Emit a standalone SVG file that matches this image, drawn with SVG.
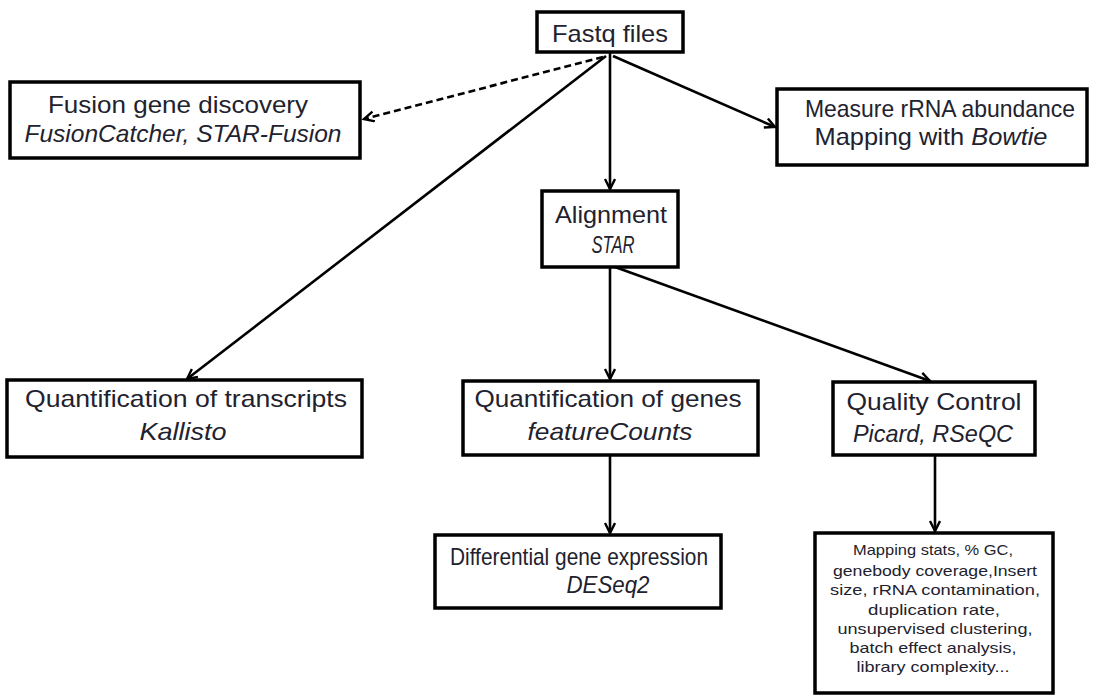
<svg xmlns="http://www.w3.org/2000/svg" width="1093" height="695" viewBox="0 0 1093 695">
<style>
.box{fill:#fff;stroke:#000;stroke-width:3.5}
.t{font-family:"Liberation Sans",Arial,sans-serif;font-size:24px;fill:#22222e;text-anchor:middle}
.i{font-style:italic}
.s{font-family:"Liberation Sans",Arial,sans-serif;font-size:15px;fill:#22222e;text-anchor:middle}
.c{fill:none;stroke:#000;stroke-width:2.6;marker-end:url(#ah)}
.d{stroke-dasharray:7,4}
</style>
<defs>
<marker id="ah" markerUnits="userSpaceOnUse" markerWidth="16" markerHeight="16" refX="11" refY="6" orient="auto">
<path d="M1,1 L11,6 L1,11" fill="none" stroke="#000" stroke-width="2.4"/>
</marker>
</defs>
<g id="connectors">
<line class="c d" x1="603" y1="57" x2="364" y2="119"/>
<line class="c" x1="613" y1="56" x2="775" y2="127"/>
<line class="c" x1="610" y1="52" x2="610" y2="189"/>
<line class="c" x1="606" y1="56" x2="187" y2="379"/>
<line class="c" x1="610" y1="267" x2="610" y2="379"/>
<line class="c" x1="615" y1="267" x2="930" y2="381"/>
<line class="c" x1="610" y1="455" x2="610" y2="533"/>
<line class="c" x1="935" y1="455" x2="935" y2="531"/>
</g>
<g id="fastq">
<rect class="box" x="537" y="12" width="146" height="40"/>
<text class="t" x="610" y="42" textLength="116" lengthAdjust="spacingAndGlyphs">Fastq files</text>
</g>
<g id="fusion">
<rect class="box" x="10" y="82" width="350" height="76"/>
<text class="t" x="178" y="113" textLength="260" lengthAdjust="spacingAndGlyphs">Fusion gene discovery</text>
<text class="t i" x="183" y="142" textLength="317" lengthAdjust="spacingAndGlyphs">FusionCatcher, STAR-Fusion</text>
</g>
<g id="rrna">
<rect class="box" x="777" y="89" width="310" height="76"/>
<text class="t" x="940" y="117" textLength="270" lengthAdjust="spacingAndGlyphs">Measure rRNA abundance</text>
<text class="t" x="931" y="145" textLength="233" lengthAdjust="spacingAndGlyphs">Mapping with <tspan class="i">Bowtie</tspan></text>
</g>
<g id="alignment">
<rect class="box" x="542" y="191" width="136" height="76"/>
<text class="t" x="611" y="223" textLength="112" lengthAdjust="spacingAndGlyphs">Alignment</text>
<text class="t i" x="613" y="253" textLength="43" lengthAdjust="spacingAndGlyphs">STAR</text>
</g>
<g id="transcripts">
<rect class="box" x="7" y="380" width="355" height="77"/>
<text class="t" x="186" y="407" textLength="322" lengthAdjust="spacingAndGlyphs">Quantification of transcripts</text>
<text class="t i" x="183" y="440" textLength="87" lengthAdjust="spacingAndGlyphs">Kallisto</text>
</g>
<g id="genes">
<rect class="box" x="463" y="381" width="295" height="74"/>
<text class="t" x="608" y="407" textLength="267" lengthAdjust="spacingAndGlyphs">Quantification of genes</text>
<text class="t i" x="610" y="440" textLength="165" lengthAdjust="spacingAndGlyphs">featureCounts</text>
</g>
<g id="qc">
<rect class="box" x="833" y="382" width="202" height="73"/>
<text class="t" x="934" y="410" textLength="175" lengthAdjust="spacingAndGlyphs">Quality Control</text>
<text class="t i" x="933" y="442" textLength="160" lengthAdjust="spacingAndGlyphs">Picard, RSeQC</text>
</g>
<g id="deseq">
<rect class="box" x="435" y="535" width="286" height="73"/>
<text class="t" x="579" y="565" textLength="258" lengthAdjust="spacingAndGlyphs">Differential gene expression</text>
<text class="t i" x="608" y="593" textLength="83" lengthAdjust="spacingAndGlyphs">DESeq2</text>
</g>
<g id="metrics">
<rect class="box" x="815" y="533" width="238" height="160"/>
<text class="s" x="933" y="555" textLength="160" lengthAdjust="spacingAndGlyphs">Mapping stats, % GC,</text>
<text class="s" x="935" y="576" textLength="204" lengthAdjust="spacingAndGlyphs">genebody coverage,Insert</text>
<text class="s" x="935" y="595" textLength="210" lengthAdjust="spacingAndGlyphs">size, rRNA contamination,</text>
<text class="s" x="934" y="615" textLength="132" lengthAdjust="spacingAndGlyphs">duplication rate,</text>
<text class="s" x="935" y="634" textLength="195" lengthAdjust="spacingAndGlyphs">unsupervised clustering,</text>
<text class="s" x="933" y="653" textLength="167" lengthAdjust="spacingAndGlyphs">batch effect analysis,</text>
<text class="s" x="933" y="672" textLength="153" lengthAdjust="spacingAndGlyphs">library complexity...</text>
</g>
</svg>
